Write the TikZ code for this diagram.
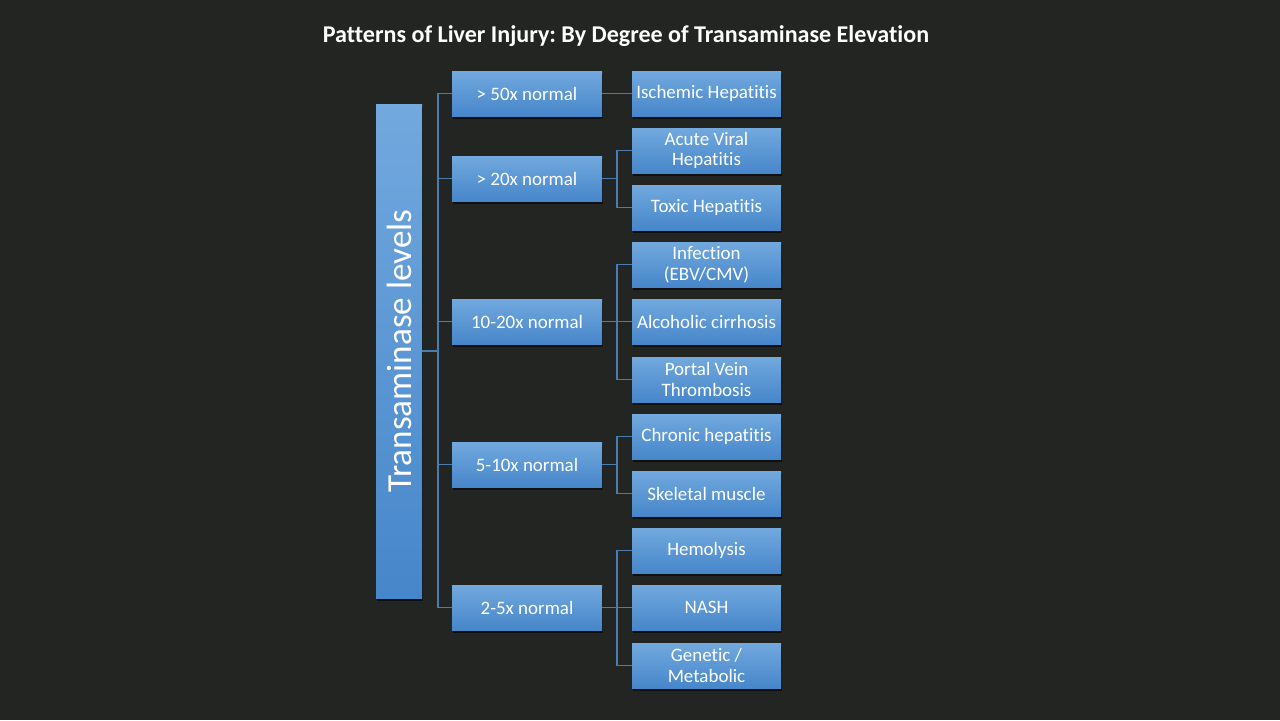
\documentclass[tikz,border=0pt]{standalone}
\usepackage{fontspec}
\setmainfont[Ligatures={NoCommon,NoRequired},Contextuals={NoAlternate}]{Carlito}
\usetikzlibrary{shadows}
\frenchspacing
\definecolor{bg}{HTML}{232523}
\definecolor{btop}{HTML}{72A9DE}
\definecolor{bmid}{HTML}{5298DA}
\definecolor{bbot}{HTML}{4686CA}
\definecolor{wire}{HTML}{4A7CB0}
\tikzset{
  blk/.style={draw=none, top color=btop, middle color=bmid, bottom color=bbot,
    minimum width=150*0.02cm, minimum height=45*0.02cm, inner sep=0pt,
    text=white, align=center, font=\fontsize{10.8}{11.8}\selectfont,
    drop shadow={shadow xshift=0.02cm, shadow yshift=-0.05cm, opacity=0.55, fill=black}},
  lvl/.style={blk},
  leaf/.style={blk, minimum width=149*0.02cm},
  wirestyle/.style={draw=wire, line width=0.7pt},
}
\begin{document}
\begin{tikzpicture}[x=0.02cm, y=-0.02cm]
\fill[bg] (0,0) rectangle (1280,720);
\useasboundingbox (0,0) rectangle (1280,720);

\node[text=white, font=\fontsize{13.7}{15}\selectfont\bfseries] (title) at (626,36) {Patterns of Liver Injury: By Degree of Transaminase Elevation};

\node[blk, minimum width=46*0.02cm, minimum height=494*0.02cm] (root) at (399,351) {};
\node[text=white, rotate=90, font=\fontsize{20}{22}\selectfont] (rootlabel) at (399,351) {Transaminase levels};

\node[lvl] (l1) at (527,93.5) {> 50x normal};
\node[lvl] (l2) at (527,178.5) {> 20x normal};
\node[lvl] (l3) at (527,321.5) {10-20x normal};
\node[lvl] (l4) at (527,464.5) {5-10x normal};
\node[lvl] (l5) at (527,607.5) {2-5x normal};

\node[leaf] (a1) at (706.5,93.5) {Ischemic Hepatitis};
\node[leaf] (a2) at (706.5,150.5) {Acute Viral\\Hepatitis};
\node[leaf] (a3) at (706.5,207.5) {Toxic Hepatitis};
\node[leaf] (a4) at (706.5,264.5) {Infection\\(EBV/CMV)};
\node[leaf] (a5) at (706.5,321.5) {Alcoholic cirrhosis};
\node[leaf] (a6) at (706.5,379.5) {Portal Vein\\Thrombosis};
\node[leaf] (a7) at (706.5,436.5) {Chronic hepatitis};
\node[leaf] (a8) at (706.5,493.5) {Skeletal muscle};
\node[leaf] (a9) at (706.5,550.5) {Hemolysis};
\node[leaf] (a10) at (706.5,607.5) {NASH};
\node[leaf] (a11) at (706.5,665.5) {Genetic /\\Metabolic};

\coordinate (trunk) at (438,351);
\begin{scope}[wirestyle]
\draw (root.east) -- (trunk);
\foreach \n in {l1,l2,l3,l4,l5}{
  \draw (trunk) |- (\n.west);
}
\draw (l1.east) -- (a1.west);
\coordinate (t2) at (617,178.5);
\draw (l2.east) -- (t2);
\foreach \n in {a2,a3}{ \draw (t2) |- (\n.west); }
\coordinate (t3) at (617,321.5);
\draw (l3.east) -- (t3);
\foreach \n in {a4,a5,a6}{ \draw (t3) |- (\n.west); }
\coordinate (t4) at (617,464.5);
\draw (l4.east) -- (t4);
\foreach \n in {a7,a8}{ \draw (t4) |- (\n.west); }
\coordinate (t5) at (617,607.5);
\draw (l5.east) -- (t5);
\foreach \n in {a9,a10,a11}{ \draw (t5) |- (\n.west); }
\end{scope}
\end{tikzpicture}
\end{document}
